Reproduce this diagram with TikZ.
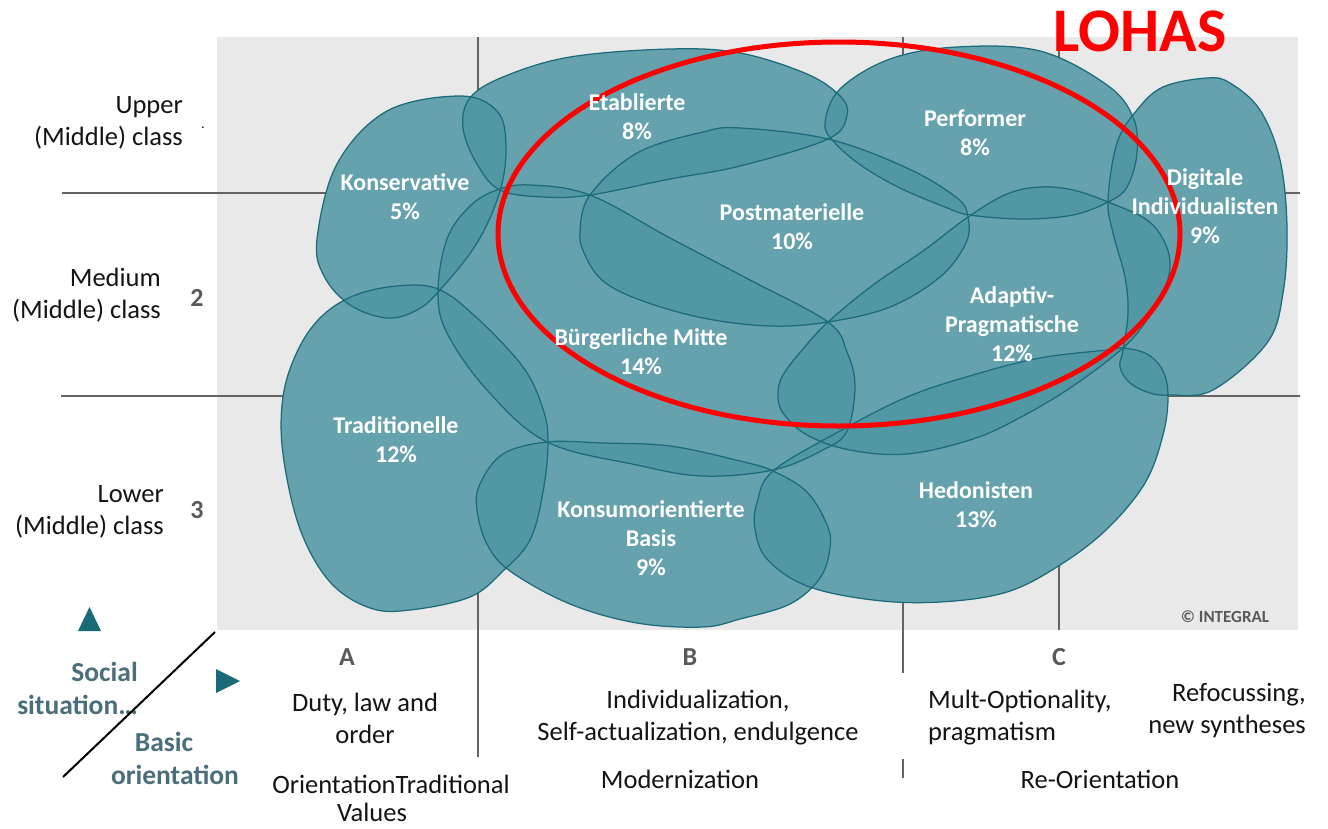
\documentclass[tikz,border=0pt]{standalone}
\usepackage{fontspec}
\setmainfont{Carlito}
\definecolor{bgc}{RGB}{233,233,233}
\definecolor{blobc}{RGB}{78,150,163}
\definecolor{linec}{RGB}{28,107,122}
\definecolor{gridc}{RGB}{100,100,100}
\definecolor{darkgray}{RGB}{89,89,89}
\definecolor{slate}{RGB}{74,111,122}
\definecolor{tri}{RGB}{26,107,120}
\definecolor{txt}{RGB}{20,20,20}
\tikzset{
  blobbase/.style={fill=bgc},
  blobfill/.style={fill=blobc, fill opacity=0.85},
  blobline/.style={draw=linec, line width=1.25pt},
  gridline/.style={draw=gridc, line width=1.4pt},
  lbl/.style={text=white, font=\bfseries\fontsize{24}{29}\selectfont, align=center, inner sep=0pt},
  axislbl/.style={text=txt, font=\fontsize{26.5}{32}\selectfont, inner sep=0pt},
  numlbl/.style={text=darkgray, font=\bfseries\fontsize{26}{30}\selectfont, inner sep=0pt},
  orilbl/.style={text=slate, font=\bfseries\fontsize{27.5}{33}\selectfont, inner sep=0pt},
}
\newcommand\allblobs[1]{%
  % Konservative
  \path[#1] plot[smooth cycle, tension=0.6] coordinates {(317,239) (324,276) (350,305) (387,318) (417,310) (440,290) (477,243) (500,191) (506,145) (497,111) (460,96) (387,111) (337,164)};
  % Etablierte
  \path[#1] plot[smooth cycle, tension=0.6] coordinates {(463,128) (477,164) (500,190) (543,197) (590,195) (670,179) (740,166) (828,139) (847,115) (840,96) (807,74) (740,53) (670,49) (570,57) (503,77) (470,98)};
  % Performer
  \path[#1] plot[smooth cycle, tension=0.6] coordinates {(825,123) (834,142) (862,166) (900,188) (945,207) (970,215) (1023,219) (1073,215) (1108,202) (1127,187) (1137,153) (1133,117) (1107,85) (1040,51) (957,47) (890,59) (840,89)};
  % Postmaterielle
  \path[#1] plot[smooth cycle, tension=0.6] coordinates {(590,195) (580,232) (585,255) (603,281) (640,300) (703,318) (770,326) (828,322) (890,307) (940,277) (966,243) (968,217) (957,198) (907,168) (828,139) (740,128) (703,132) (637,153)};
  % Buergerliche Mitte
  \path[#1] plot[smooth cycle, tension=0.6] coordinates {(497,190) (530,185) (590,195) (670,238) (750,280) (828,322) (847,352) (855,386) (847,431) (823,450) (773,470) (703,476) (637,465) (547,442) (487,390) (447,333) (438,292) (447,239) (470,206)};
  % Adaptiv-Pragmatische
  \path[#1] plot[smooth cycle, tension=0.6] coordinates {(828,322) (873,285) (923,251) (968,217) (1007,194) (1040,187) (1073,190) (1108,202) (1147,220) (1165,243) (1170,267) (1163,293) (1147,320) (1123,348) (1073,386) (1023,416) (973,439) (907,454) (850,450) (807,435) (783,413) (778,394) (783,375) (803,349)};
  % Digitale Individualisten
  \path[#1] plot[smooth cycle, tension=0.6] coordinates {(1163,87) (1207,78) (1230,83) (1260,110) (1280,160) (1287,227) (1283,293) (1267,343) (1213,390) (1170,395) (1150,393) (1130,383) (1120,367) (1123,350) (1128,313) (1125,277) (1113,233) (1108,200) (1117,143) (1137,110)};
  % Hedonisten
  \path[#1] plot[smooth cycle, tension=0.6] coordinates {(773,471) (840,431) (907,397) (973,375) (1040,358) (1107,350) (1123,348) (1147,354) (1163,371) (1168,397) (1163,435) (1145,483) (1107,529) (1060,565) (1007,592) (940,602) (873,600) (807,586) (767,559) (755,529) (757,503)};
  % Konsumorientierte Basis
  \path[#1] plot[smooth cycle, tension=0.6] coordinates {(547,442) (603,443) (670,446) (740,461) (773,471) (807,492) (827,525) (830,548) (820,578) (790,604) (740,619) (703,627) (637,623) (570,604) (510,571) (487,544) (477,510) (480,484) (503,454)};
  % Traditionelle
  \path[#1] plot[smooth cycle, tension=0.6] coordinates {(397,286) (438,289) (477,318) (523,367) (543,409) (548,443) (543,492) (530,540) (503,571) (470,597) (410,610) (370,608) (330,582) (300,529) (283,454) (283,397) (297,352) (320,318) (353,296)};
}
\begin{document}
\begin{tikzpicture}[x=1pt,y=-1pt]
\useasboundingbox (0,0) rectangle (1328,828);
\fill[white] (0,0) rectangle (1328,828);
% gray panel
\fill[bgc] (217,37) rectangle (1298,630);
% grid lines
\coordinate (h1a) at (62,193); \coordinate (h1b) at (1300,193);
\coordinate (h2a) at (61,396); \coordinate (h2b) at (1300,396);
\coordinate (v1a) at (478,37); \coordinate (v1b) at (478,757);
\coordinate (v2a) at (903,37); \coordinate (v2b) at (903,673);
\coordinate (v2c) at (903,759); \coordinate (v2d) at (903,778);
\coordinate (v3a) at (1059,37); \coordinate (v3b) at (1059,630);
\draw[gridline] (h1a) -- (h1b);
\draw[gridline] (h2a) -- (h2b);
\draw[gridline] (v1a) -- (v1b);
\draw[gridline] (v2a) -- (v2b);
\draw[gridline] (v2c) -- (v2d);
\draw[gridline] (v3a) -- (v3b);
% blobs
\allblobs{blobbase}
\allblobs{blobfill}
\allblobs{blobline}
% LOHAS ellipse
\draw[red, line width=5pt] (839,234) ellipse [x radius=341, y radius=192];
\node[text=red, font=\bfseries\fontsize{62}{62}\selectfont, inner sep=0pt] (lohas) at (1140,31) {LOHAS};
% blob labels
\node[lbl] (etab) at (637,117) {Etablierte\\8\%};
\node[lbl] (perf) at (975,133) {Performer\\8\%};
\node[lbl] (kons) at (405,197) {Konservative\\5\%};
\node[lbl] (post) at (792,227) {Postmaterielle\\10\%};
\node[lbl] (digi) at (1205,206) {Digitale\\Individualisten\\9\%};
\node[lbl] (adap) at (1012,324) {Adaptiv-\\Pragmatische\\12\%};
\node[lbl] (buer) at (641,352) {Bürgerliche Mitte\\14\%};
\node[lbl] (trad) at (396,440) {Traditionelle\\12\%};
\node[lbl] (konsum) at (651,538) {Konsumorientierte\\Basis\\9\%};
\node[lbl] (hedo) at (976,505) {Hedonisten\\13\%};
\node[text=darkgray, font=\bfseries\fontsize{17}{20}\selectfont, inner sep=0pt] (copy) at (1225,617) {© INTEGRAL};
% left axis labels
\node[axislbl, align=right, anchor=east] (upper) at (183,123) {Upper\\(Middle) class};
\node[text=txt, font=\fontsize{14}{14}\selectfont, inner sep=0pt] (dot) at (203,128) {.};
\node[axislbl, align=right, anchor=east] (medium) at (161,295) {Medium\\(Middle) class};
\node[axislbl, align=right, anchor=east] (lower) at (164,512) {Lower\\(Middle) class};
\node[numlbl] (n2) at (197,298) {2};
\node[numlbl] (n3) at (197,510) {3};
% bottom axis labels
\node[numlbl] (colA) at (347,657) {A};
\node[numlbl] (colB) at (690,657) {B};
\node[numlbl] (colC) at (1059,657) {C};
\node[axislbl, align=center] (duty) at (365,718) {Duty, law and\\order};
\node[axislbl, align=center] (indiv) at (698,718) {Individualization,\\Self-actualization, endulgence};
\node[axislbl, align=left, anchor=west] (mult) at (928,718) {Mult-Optionality,\\pragmatism};
\node[axislbl, align=right, anchor=east] (refoc) at (1306,711) {Refocussing,\\new syntheses};
\node[axislbl] (trv1) at (391,784) {OrientationTraditional};
\node[axislbl] (trv2) at (372,812) {Values};
\node[axislbl] (modern) at (680,779) {Modernization};
\node[axislbl] (reori) at (1100,779) {Re-Orientation};
% corner
\node[orilbl, align=right, anchor=east] (social) at (138,688) {Social\\situation…};
\node[orilbl] (basic) at (164,742) {Basic};
\node[orilbl] (orient) at (175,775) {orientation};
\coordinate (dgA) at (63,777);
\coordinate (dgB) at (215,632);
\draw[black, line width=2pt] (dgA) -- (dgB);
\fill[tri] (78,631) -- (101,631) -- (89.5,607) -- cycle;
\fill[tri] (216,669) -- (216,693) -- (240,681) -- cycle;
\end{tikzpicture}
\end{document}
